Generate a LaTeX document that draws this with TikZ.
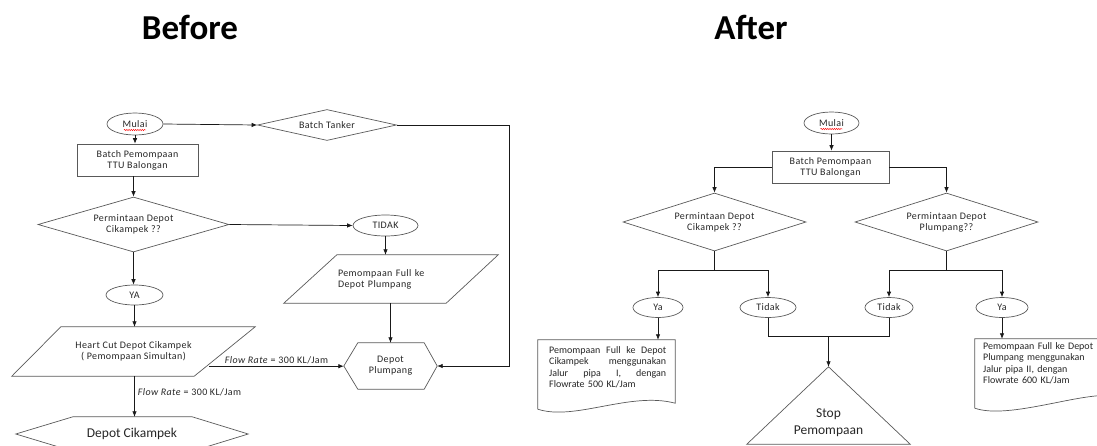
\documentclass[tikz,border=0pt]{standalone}
\usepackage{fontspec}
\setmainfont{Carlito}
\newfontfamily\spaced[LetterSpace=4]{Carlito}
\usetikzlibrary{shapes.geometric,arrows.meta,calc,decorations.pathmorphing}
\begin{document}
\begin{tikzpicture}[x=1pt,y=-1pt,
  base/.style={font=\fontsize{10}{11}\spaced, inner sep=0pt, align=center, text=black!85},
  shp/.style={draw=black!65, line width=0.7pt},
  term/.style={base, shp, ellipse},
  proc/.style={base, shp, rectangle},
  dec/.style={base, shp, diamond},
  ghost/.style={base, rectangle},
  ln/.style={line width=0.7pt, draw=black!90},
  arr/.style={ln, -{Latex[length=5.5pt,width=4.5pt]}},
  lbl/.style={font=\fontsize{10}{11}\spaced, inner sep=0pt, text=black!85},
  doctxt/.style={font=\fontsize{10}{11.2}\selectfont, inner sep=0pt, text=black!85},
  big/.style={font=\fontsize{13.5}{17}\selectfont},
  title/.style={font=\fontsize{35}{40}\selectfont\bfseries, inner sep=0pt},
  spell/.style={draw=red, line width=0.4pt, decorate, decoration={snake, amplitude=0.7pt, segment length=2.2pt}}
]
\useasboundingbox (0,0) rectangle (1097,445);
\clip (0,0) rectangle (1097,445);

% titles
\node[title] (tb) at (190,27) {Before};
\node[title] (ta) at (751,27) {After};

% ---------------- BEFORE ----------------
\node[term, minimum width=56pt, minimum height=22pt] (m1) at (135,124) {Mulai};
\draw[spell] ($(m1.center)+(-11,6)$) -- ($(m1.center)+(11,6)$);
\node[dec, aspect=4.5, minimum width=139pt, minimum height=31pt] (bt) at (327,125) {Batch Tanker};
\node[proc, minimum width=121pt, minimum height=32pt] (b1) at (137.5,160) {Batch Pemompaan\\TTU Balongan};
\node[dec, aspect=3.47, minimum width=191pt, minimum height=55pt] (d1) at (133.5,224.5) {Permintaan Depot\\Cikampek ??};
\node[term, minimum width=65pt, minimum height=21pt] (tidak1) at (385.5,225.5) {TIDAK};

% parallelogram Pemompaan Full ke Depot Plumpang
\node[ghost, align=left, text width=106pt, inner xsep=54pt, minimum height=48pt] (pf) at (391,279) {Pemompaan Full ke\\Depot Plumpang};
\draw[shp] ($(pf.north west)+(53,0)$) -- (pf.north east) -- ($(pf.south east)+(-52,0)$) -- (pf.south west) -- cycle;

% hexagon Depot Plumpang
\node[ghost, minimum width=93pt, minimum height=46pt] (dp) at (390.5,366) {Depot\\Plumpang};
\draw[shp] (dp.west) -- ($(dp.north west)+(14,0)$) -- ($(dp.north east)+(-13,0)$) -- (dp.east) -- ($(dp.south east)+(-13,0)$) -- ($(dp.south west)+(14,0)$) -- cycle;

\node[term, minimum width=57pt, minimum height=20pt] (ya1) at (134.5,295) {YA};

% parallelogram Heart Cut
\node[ghost, minimum width=243pt, minimum height=49pt] (hc) at (133.5,351.5) {Heart Cut Depot Cikampek\\( Pemompaan Simultan)};
\draw[shp] ($(hc.north west)+(49,0)$) -- (hc.north east) -- ($(hc.south east)+(-61,0)$) -- (hc.south west) -- cycle;
\coordinate (hcout) at ($(hc.south east)+(-46,-10)$);

% hexagon Depot Cikampek
\node[ghost, big, minimum width=232pt, minimum height=34pt] (dc) at (132,434) {Depot Cikampek};
\draw[shp] (dc.west) -- ($(dc.north west)+(57,0)$) -- ($(dc.north east)+(-56,0)$) -- (dc.east) -- ($(dc.south east)+(-56,0)$) -- ($(dc.south west)+(57,0)$) -- cycle;

% connectors before
\draw[arr] (m1.east) -- (bt.west);
\draw[arr] (bt.east) -- ++(112.5,0) |- (dp.east);
\draw[arr] (m1.south) -- (b1.north -| m1.south);
\draw[arr] (b1.south -| d1.north) -- (d1.north);
\draw[arr] (d1.east) -- (tidak1.west);
\draw[arr] (tidak1.south) -- (tidak1.south |- pf.north);
\draw[arr] (pf.south -| dp.north) -- (dp.north);
\draw[arr] (d1.south) -- (ya1.north -| d1.south);
\draw[arr] (ya1.south) -- (ya1.south |- hc.north);
\draw[arr] (hc.south -| ya1.south) -- (dc.north -| ya1.south) node[lbl, pos=0.4, anchor=west, xshift=3pt] (fl1) {\textit{Flow Rate} = 300 KL/Jam};
\draw[arr] (hcout) -- (hcout -| dp.west) node[lbl, pos=0.5, anchor=south, yshift=2pt] (fl2) {\textit{Flow Rate} = 300 KL/Jam};

% ---------------- AFTER ----------------
\node[term, minimum width=55pt, minimum height=22pt] (m2) at (831.5,123) {Mulai};
\draw[spell] ($(m2.center)+(-11,6)$) -- ($(m2.center)+(11,6)$);
\node[proc, minimum width=117pt, minimum height=32pt] (b2) at (830.5,167) {Batch Pemompaan\\TTU Balongan};
\node[dec, aspect=3.16, minimum width=183pt, minimum height=58pt] (d2) at (714.5,222) {Permintaan Depot\\Cikampek ??};
\node[dec, aspect=3.16, minimum width=183pt, minimum height=58pt] (d3) at (946.5,222) {Permintaan Depot\\Plumpang??};
\node[term, minimum width=50pt, minimum height=20pt] (ya2) at (658,307.5) {Ya};
\node[term, minimum width=56pt, minimum height=20pt] (ti2) at (768,307.5) {Tidak};
\node[term, minimum width=48pt, minimum height=20pt] (ti3) at (889,307.5) {Tidak};
\node[term, minimum width=52pt, minimum height=20pt] (ya3) at (1002,307.5) {Ya};

% stop triangle
\node[ghost, minimum width=163pt, minimum height=77pt] (st) at (828.5,405.5) {};
\draw[shp] (st.north) -- (st.south east) -- (st.south west) -- cycle;
\node[lbl, big, align=center] (stt) at (828.5,423) {Stop\\Pemompaan};

% documents
\node[ghost, minimum width=137pt, minimum height=65pt] (doc1) at (606.5,372.5) {};
\draw[shp] ($(doc1.south west)+(0,4)$) -- (doc1.north west) -- (doc1.north east) -- ($(doc1.south east)+(0,-2)$)
  .. controls ($(doc1.south east)+(-45,-14)$) and ($(doc1.south west)+(37,16)$) .. ($(doc1.south west)+(0,4)$);
\node[doctxt, text width=117pt, align=left, anchor=north west] (doc1t) at (549,346.5) {Pemompaan\hfill Full\hfill ke\hfill Depot\\Cikampek\hfill menggunakan\\Jalur\hfill pipa\hfill I,\hfill dengan\\Flowrate 500 KL/Jam};

\node[ghost, minimum width=140pt, minimum height=65pt] (doc2) at (1045,371.5) {};
\draw[shp] ($(doc2.south west)+(0,4)$) -- (doc2.north west) -- (doc2.north east) -- ($(doc2.south east)+(0,-8)$)
  .. controls ($(doc2.south east)+(-30,-14)$) and ($(doc2.south west)+(35,16)$) .. ($(doc2.south west)+(0,4)$);
\node[doctxt, text width=110pt, align=left, anchor=north west] (doc2t) at (983,342.5) {Pemompaan Full ke Depot\\Plumpang menggunakan\\Jalur pipa II, dengan\\Flowrate 600 KL/Jam};

% connectors after
\draw[arr] (m2.south) -- (b2.north -| m2.south);
\draw[arr] (b2.west) -| (d2.north);
\draw[arr] (b2.east) -| (d3.north);
\draw[ln] (d2.south) -- ++(0,19) coordinate (j2);
\draw[arr] (j2) -| (ya2.north);
\draw[arr] (j2) -| (ti2.north);
\draw[ln] (d3.south) -- ++(0,19) coordinate (j3);
\draw[arr] (j3) -| (ti3.north);
\draw[arr] (j3) -| (ya3.north);
\coordinate (j4) at ($(st.north)+(0,-30)$);
\draw[ln] (ti2.south) |- (j4);
\draw[ln] (ti3.south) |- (j4);
\draw[arr] (j4) -- (st.north);
\draw[arr] (ya2.south) -- (ya2.south |- doc1.north);
\draw[arr] (ya3.south) -- (ya3.south |- doc2.north);
\end{tikzpicture}
\end{document}
